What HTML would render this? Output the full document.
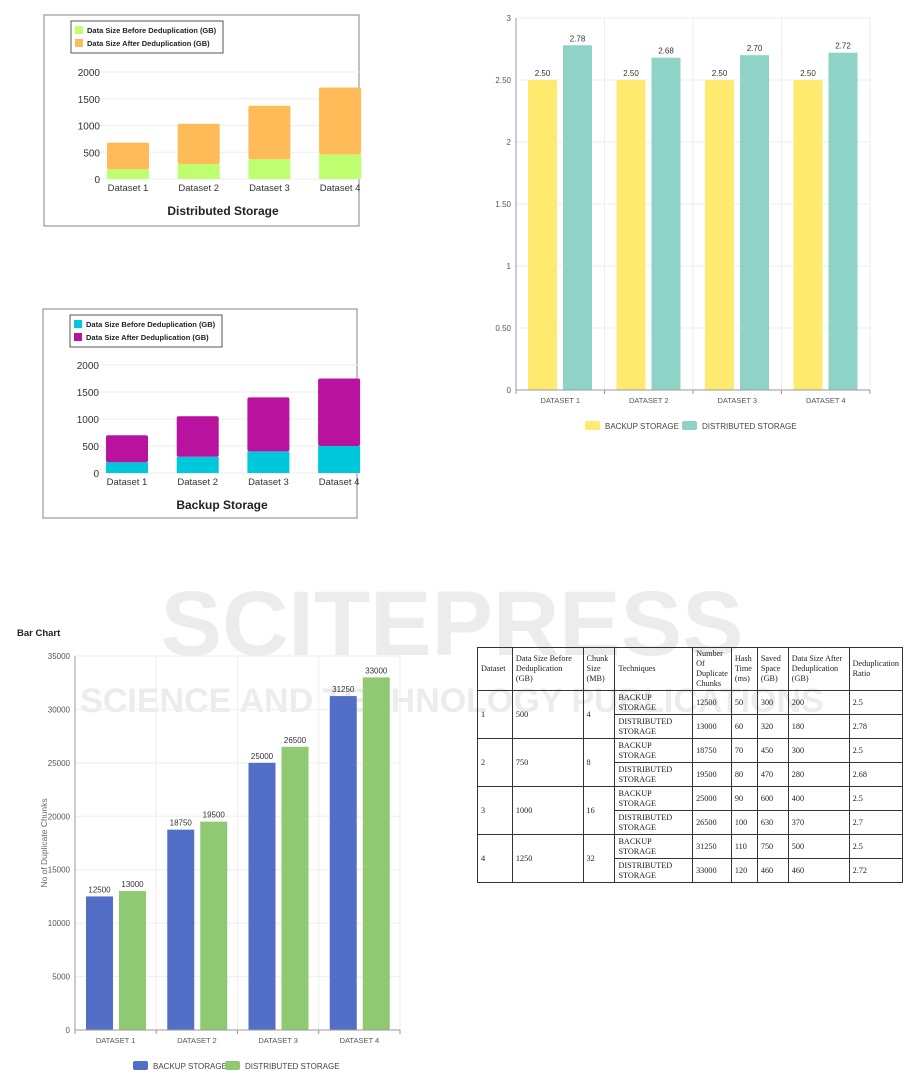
<!DOCTYPE html>
<html><head><meta charset="utf-8"><style>
body{margin:0;width:904px;height:1075px;background:#fff;position:relative;overflow:hidden;font-family:"Liberation Sans",sans-serif}
svg{position:absolute;left:0;top:0}
table{position:absolute;left:477px;top:647px;border-collapse:collapse;font-family:"Liberation Serif",serif;font-size:8.2px;color:#222;width:426px}
td{border:1px solid #333;padding:1px 3px;vertical-align:middle;line-height:10px}
</style></head><body>
<svg id="s" width="904" height="1075">
<text x="452" y="655" text-anchor="middle" font-size="92" font-weight="bold" fill="#ececec">SCITEPRESS</text>
<text x="452" y="712" text-anchor="middle" font-size="34" font-weight="bold" fill="#ececec">SCIENCE AND TECHNOLOGY PUBLICATIONS</text>
</svg>
<table>
<tr style="height:38px"><td style="width:28px">Dataset</td><td style="width:64px">Data Size Before Deduplication (GB)</td><td style="width:25px">Chunk Size (MB)</td><td style="width:71px">Techniques</td><td style="width:29px">Number Of Duplicate Chunks</td><td style="width:19px">Hash Time (ms)</td><td style="width:24px">Saved Space (GB)</td><td style="width:54px">Data Size After Deduplication (GB)</td><td>Deduplication Ratio</td></tr>
<tr style="height:24px"><td rowspan="2">1</td><td rowspan="2">500</td><td rowspan="2">4</td><td>BACKUP STORAGE</td><td>12500</td><td>50</td><td>300</td><td>200</td><td>2.5</td></tr>
<tr style="height:24px"><td>DISTRIBUTED STORAGE</td><td>13000</td><td>60</td><td>320</td><td>180</td><td>2.78</td></tr>
<tr style="height:24px"><td rowspan="2">2</td><td rowspan="2">750</td><td rowspan="2">8</td><td>BACKUP STORAGE</td><td>18750</td><td>70</td><td>450</td><td>300</td><td>2.5</td></tr>
<tr style="height:24px"><td>DISTRIBUTED STORAGE</td><td>19500</td><td>80</td><td>470</td><td>280</td><td>2.68</td></tr>
<tr style="height:24px"><td rowspan="2">3</td><td rowspan="2">1000</td><td rowspan="2">16</td><td>BACKUP STORAGE</td><td>25000</td><td>90</td><td>600</td><td>400</td><td>2.5</td></tr>
<tr style="height:24px"><td>DISTRIBUTED STORAGE</td><td>26500</td><td>100</td><td>630</td><td>370</td><td>2.7</td></tr>
<tr style="height:24px"><td rowspan="2">4</td><td rowspan="2">1250</td><td rowspan="2">32</td><td>BACKUP STORAGE</td><td>31250</td><td>110</td><td>750</td><td>500</td><td>2.5</td></tr>
<tr style="height:24px"><td>DISTRIBUTED STORAGE</td><td>33000</td><td>120</td><td>460</td><td>460</td><td>2.72</td></tr>
</table>
<script>
const stackCats=["Dataset 1","Dataset 2","Dataset 3","Dataset 4"];
const distAfter=[180,280,370,460];
const distBefore=[500,750,1000,1250];
const backAfter=[200,300,400,500];
const backBefore=[500,750,1000,1250];
const stackTicks=[0,500,1000,1500,2000];
const cats=["DATASET 1","DATASET 2","DATASET 3","DATASET  4"];
const ratioBackup=[2.50,2.50,2.50,2.50];
const ratioDist=[2.78,2.68,2.70,2.72];
const ratioTicks=[0,0.5,1,1.5,2,2.5,3];
const ratioTickLabels=["0","0.50","1","1.50","2","2.50","3"];
const chunkBackup=[12500,18750,25000,31250];
const chunkDist=[13000,19500,26500,33000];
const chunkTicks=[0,5000,10000,15000,20000,25000,30000,35000];
const NS="http://www.w3.org/2000/svg";
const svg=document.getElementById('s');
function el(t,a,txt){const e=document.createElementNS(NS,t);for(const k in a)e.setAttribute(k,a[k]);if(txt!==undefined)e.textContent=txt;svg.appendChild(e);return e;}

function stacked(top,box,lower,upper,cLow,cUp,legLow,legUp,title,y0,yMax){
  const b=el('rect',box);
  
  
  const lg=el('rect',{x:box.x+27,y:top+6,width:152,height:32,fill:'#fff',stroke:'#555','stroke-width':1});
  
  
  [[cLow,legLow],[cUp,legUp]].forEach((p,i)=>{
    const sw=el('rect',{x:box.x+31,y:top+11+i*13,width:8,height:8,fill:p[0]});
    
    
    const t=el('text',{x:box.x+43,y:top+18+i*13,'font-size':7.5,'font-weight':'bold',fill:'#222'},p[1]);
    
    
  });
  const y=v=>y0-(v/2000)*(y0-yMax);
  stackTicks.forEach(v=>{
    const g=el('line',{x1:box.x+46,x2:box.x+315,y1:y(v),y2:y(v),stroke:'#eee'});
    
    
    const t=el('text',{x:box.x+56,y:y(v)+4,'text-anchor':'end','font-size':10,fill:'#333'},v);
    
    
  });
  stackCats.forEach((c,i)=>{
    const cx=box.x+84+i*70.7, w=42;
    const r1=el('rect',{x:cx-w/2,y:y(lower[i]),width:w,height:y0-y(lower[i]),fill:cLow});
    
    
    const r2=el('rect',{x:cx-w/2,y:y(lower[i]+upper[i]),width:w,height:y(lower[i])-y(lower[i]+upper[i]),fill:cUp,rx:2});
    
    
    const t=el('text',{x:cx,y:y0+12,'text-anchor':'middle','font-size':9.5,fill:'#333'},c);
    
    
  });
  const tt=el('text',{x:box.x+179,y:y0+36,'text-anchor':'middle','font-size':12,'font-weight':'bold',fill:'#222'},title);
  
  
}
stacked(15,{x:44,y:15,width:315,height:211,fill:'#fff',stroke:'#999','stroke-width':1.2},distAfter,distBefore,'#bfff6f','#ffbb58','Data Size Before Deduplication (GB)','Data Size After Deduplication (GB)','Distributed Storage',179,72);
stacked(309,{x:43,y:309,width:314,height:209,fill:'#fff',stroke:'#999','stroke-width':1.2},backAfter,backBefore,'#00c8dc','#b8129f','Data Size Before Deduplication (GB)','Data Size After Deduplication (GB)','Backup Storage',473,365);

function grouped(o){
  const y=v=>o.y0-(v/o.max)*(o.y0-o.yTop);
  const bw=(o.x1-o.x0)/cats.length;
  o.ticks.forEach((v,i)=>{
    const g=el('line',{x1:o.x0,x2:o.x1,y1:y(v),y2:y(v),stroke:'#eee'});
    
    
    const t=el('text',{x:o.x0-5,y:y(v)+3,'text-anchor':'end','font-size':8,fill:'#555'},o.tickLabels[i]);
    
    
  });
  for(let i=0;i<=cats.length;i++){
    const g=el('line',{x1:o.x0+i*bw,x2:o.x0+i*bw,y1:o.yTop,y2:o.y0+4,stroke:i==0?'none':'#eee'});
    
    
    const tk=el('line',{x1:o.x0+i*bw,x2:o.x0+i*bw,y1:o.y0,y2:o.y0+4,stroke:'#999'});
    
    
  }
  cats.forEach((c,i)=>{
    const bx=o.x0+i*bw;
    [[o.a,o.ca,o.off1],[o.b,o.cb,o.off2]].forEach((s,j)=>{
      const v=s[0][i];
      const r=el('rect',{x:bx+s[2],y:y(v),width:o.w,height:o.y0-y(v),fill:s[1]});
      
      
      const t=el('text',{x:bx+s[2]+o.w/2,y:y(v)-4,'text-anchor':'middle','font-size':8,fill:'#333'},o.fmt(v));
      
      
    });
    const t=el('text',{x:bx+bw/2,y:o.y0+13,'text-anchor':'middle','font-size':7.5,fill:'#555'},c);
    
    
  });
  const ax=el('line',{x1:o.x0,x2:o.x0,y1:o.yTop,y2:o.y0,stroke:'#999'});
  
  
  const bx=el('line',{x1:o.x0,x2:o.x1,y1:o.y0,y2:o.y0,stroke:'#999'});
  
  
  [[o.ca,'BACKUP STORAGE',o.lx],[o.cb,'DISTRIBUTED STORAGE',o.lx2]].forEach(p=>{
    const sw=el('rect',{x:p[2],y:o.ly-5,width:15,height:9,fill:p[0],rx:2});
    
    
    const t=el('text',{x:p[2]+20,y:o.ly+3,'font-size':8,fill:'#444'},p[1]);
    
    
  });
}
grouped({x0:516,x1:870,y0:390,yTop:18,max:3,ticks:ratioTicks,tickLabels:ratioTickLabels,a:ratioBackup,b:ratioDist,ca:'#feea6e',cb:'#8fd3c6',off1:12,off2:47,w:29,fmt:v=>v.toFixed(2),ly:426,lx:585,lx2:682});
grouped({x0:75,x1:400,y0:1030,yTop:656,max:35000,ticks:chunkTicks,tickLabels:chunkTicks.map(String),a:chunkBackup,b:chunkDist,ca:'#536ec6',cb:'#8fc971',off1:11,off2:44,w:27,fmt:v=>String(v),ly:1066,lx:133,lx2:225});
const ttl=el('text',{x:17,y:636,'font-size':9.5,'font-weight':'bold',fill:'#222'},'Bar Chart');


const yt=el('text',{x:0,y:0,'font-size':8.5,fill:'#666','text-anchor':'middle',transform:'translate(47,843) rotate(-90)'},'No of Duplicate Chunks');


</script>
</body></html>
